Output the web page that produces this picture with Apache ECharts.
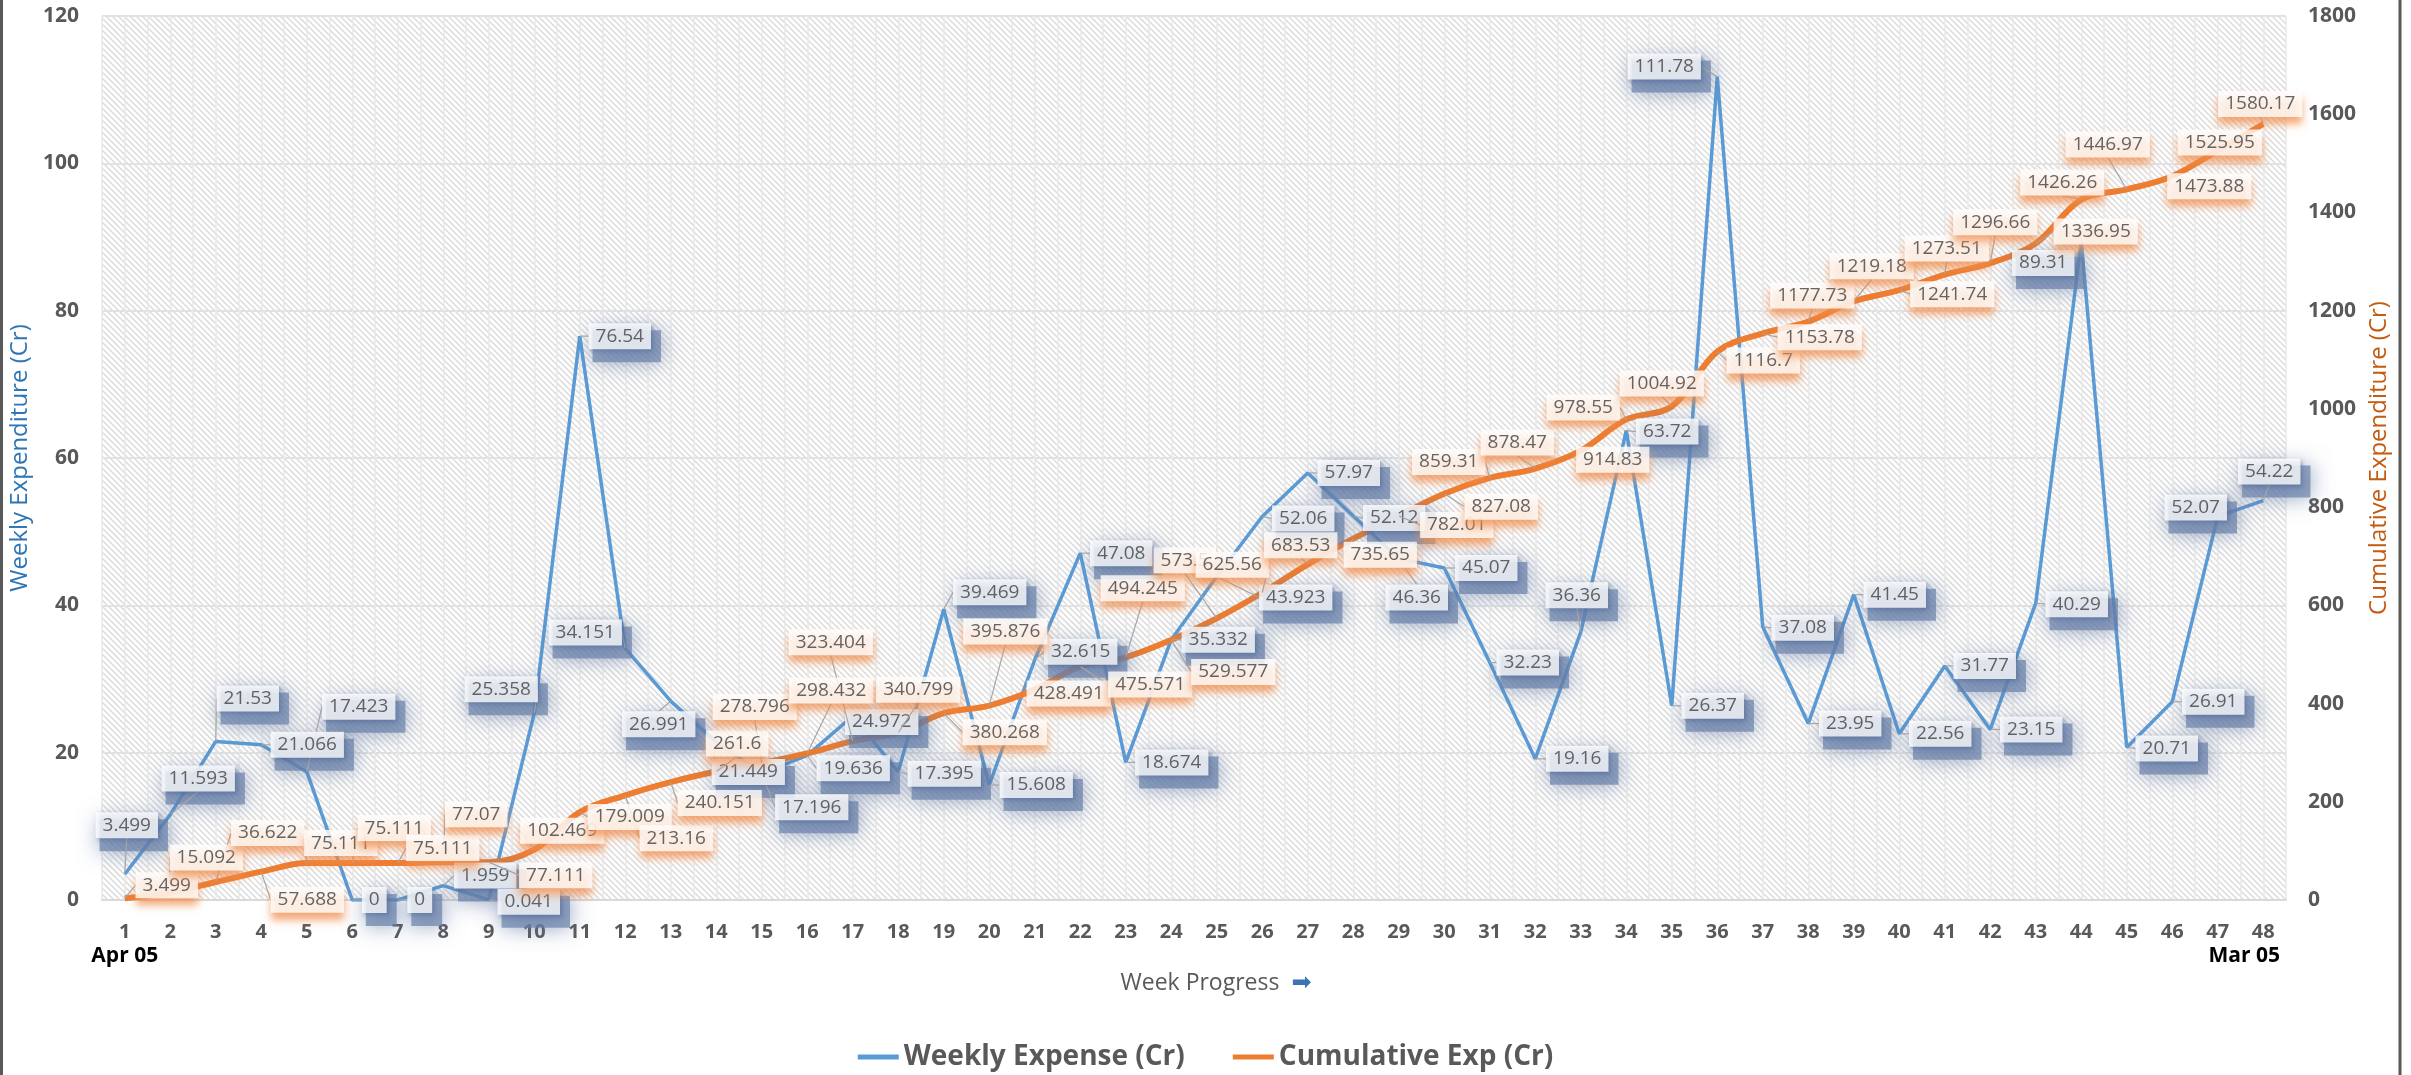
<!DOCTYPE html>
<html>
<head>
<meta charset="utf-8">
<title>Weekly Expenditure</title>
<script src="https://cdn.jsdelivr.net/npm/echarts@6/dist/echarts.min.js"></script>
<style>
  html, body { margin: 0; padding: 0; background: #ffffff; }
  #chart { width: 2411px; height: 1075px; }
</style>
</head>
<body>
<div id="chart"></div>
<script>
const weeks = [
  "1", "2", "3", "4", "5", "6", "7", "8", "9", "10", "11", "12",
  "13", "14", "15", "16", "17", "18", "19", "20", "21", "22", "23", "24",
  "25", "26", "27", "28", "29", "30", "31", "32", "33", "34", "35", "36",
  "37", "38", "39", "40", "41", "42", "43", "44", "45", "46", "47", "48",
];

const weeklyExpense = [
  3.499, 11.593, 21.53, 21.066, 17.423, 0, 0, 1.959, 0.041, 25.358, 76.54, 34.151,
  26.991, 21.449, 17.196, 19.636, 24.972, 17.395, 39.469, 15.608, 32.615, 47.08, 18.674, 35.332,
  43.923, 52.06, 57.97, 52.12, 46.36, 45.07, 32.23, 19.16, 36.36, 63.72, 26.37, 111.78,
  37.08, 23.95, 41.45, 22.56, 31.77, 23.15, 40.29, 89.31, 20.71, 26.91, 52.07, 54.22,
];

const cumulativeExp = [
  3.499, 15.092, 36.622, 57.688, 75.111, 75.111, 75.111, 77.07, 77.111, 102.469, 179.009, 213.16,
  240.151, 261.6, 278.796, 298.432, 323.404, 340.799, 380.268, 395.876, 428.491, 475.571, 494.245, 529.577,
  573.5, 625.56, 683.53, 735.65, 782.01, 827.08, 859.31, 878.47, 914.83, 978.55, 1004.92, 1116.7,
  1153.78, 1177.73, 1219.18, 1241.74, 1273.51, 1296.66, 1336.95, 1426.26, 1446.97, 1473.88, 1525.95, 1580.17,
];

const periodStart = "Apr 05";
const periodEnd = "Mar 05";

// where each data label box sits relative to its point (px), as placed in the original
const weeklyLabelShift = [
  [2, -49], [28, -36], [32, -43], [46, 0], [52, -65], [22, 0], [22, 0], [42, -10],
  [40, 2], [-33, -24], [40, 0], [-40, -16], [-12, 23], [32, 30], [50, 34], [46, 13],
  [29, 6], [46, 2], [46, -17], [47, 0], [46, -8], [41, 0], [46, 0], [47, 0],
  [79, 21], [41, 2], [41, 0], [41, 2], [18, 39], [42, 0], [38, 0], [42, 0],
  [-4, -37], [41, 1], [41, 0], [-53, -10], [40, 1], [42, 0], [41, 0], [41, 0],
  [40, 0], [41, 0], [41, 1], [-38, 21], [40, 1], [41, 0], [-22, -9], [6, -29],
];

const cumulativeLabelShift = [
  [42, -13], [36, -35], [52, -49], [46, 28], [34, -20], [42, -35], [45, -15], [33, -48],
  [67, 13], [28, -19], [50, 5], [51, 43], [49, 21], [21, -28], [-7, -56], [24, -63],
  [-22, -99], [20, -43], [61, 19], [16, -74], [34, 4], [70, 18], [17, -69], [62, 32],
  [-32, -58], [-30, -28], [-7, -19], [27, 16], [58, 9], [57, 13], [-41, -16], [-18, -26],
  [32, 9], [-43, -12], [-10, -23], [46, 9], [57, 4], [4, -26], [18, -35], [53, 4],
  [2, -26], [5, -41], [60, -12], [-19, -17], [-19, -45], [37, 10], [2, -8], [-3, -20],
];

const FONT = "Open Sans";

function makeHatch() {
  const size = 6;
  const canvas = document.createElement("canvas");
  canvas.width = size;
  canvas.height = size;
  const ctx = canvas.getContext("2d");
  ctx.fillStyle = "#ffffff";
  ctx.fillRect(0, 0, size, size);
  ctx.strokeStyle = "#dcdcdc";
  ctx.lineWidth = 1.5;
  ctx.beginPath();
  ctx.moveTo(-1, -1);
  ctx.lineTo(size + 1, size + 1);
  ctx.moveTo(-1, size - 1);
  ctx.lineTo(1, size + 1);
  ctx.moveTo(size - 1, -1);
  ctx.lineTo(size + 1, 1);
  ctx.stroke();
  return canvas;
}

function labelStyle(shadowColor, blur, offX, offY) {
  return {
    show: true,
    position: "inside",
    formatter: (p) => String(p.value),
    fontFamily: FONT,
    fontSize: 19,
    color: "#404040",
    backgroundColor: "#ffffff",
    padding: [4, 7, 3, 7],
    shadowColor: shadowColor,
    shadowBlur: blur,
    shadowOffsetX: offX,
    shadowOffsetY: offY,
  };
}

// blurred dark box drawn under the blue labels (Excel "outer shadow" look)
const weeklyShadowLabel = {
  show: true,
  position: "inside",
  formatter: (p) => String(p.value),
  fontFamily: FONT,
  fontSize: 19,
  color: "rgba(0,0,0,0)",
  backgroundColor: "rgba(104,128,168,0.85)",
  padding: [7, 10, 6, 10],
  shadowColor: "rgba(96,120,162,1)",
  shadowBlur: 22,
};

function shiftLayout(shifts, extraX, extraY) {
  return (params) => {
    const s = shifts[params.dataIndex];
    return { dx: s[0] + (extraX || 0), dy: s[1] + (extraY || 0) };
  };
}

const chart = echarts.init(document.getElementById("chart"));

const option = {
  backgroundColor: "#ffffff",
  animation: false,
  textStyle: { fontFamily: FONT },
  grid: {
    left: 102,
    right: 125,
    top: 16,
    bottom: 175,
    show: true,
    borderWidth: 0,
    backgroundColor: { image: makeHatch(), repeat: "repeat" },
  },
  legend: {
    data: ["Weekly Expense (Cr)", "Cumulative Exp (Cr)"],
    left: "center",
    top: 1038,
    icon: "rect",
    itemWidth: 41,
    itemHeight: 5,
    itemGap: 48,
    textStyle: { fontFamily: FONT, fontSize: 28, fontWeight: "bold", color: "#595959" },
  },
  xAxis: [
    {
      type: "category",
      data: weeks,
      boundaryGap: true,
      axisLine: { lineStyle: { color: "#d9d9d9", width: 2 } },
      axisTick: { show: false },
      splitLine: { show: false },
      axisLabel: {
        interval: 0,
        margin: 20,
        formatter: (value, index) => {
          if (index === 0) return "{n|" + value + "}\n{d|" + periodStart + "}";
          if (index === weeks.length - 1) return "{n|" + value + "}\n{e|" + periodEnd + "}";
          return "{n|" + value + "}";
        },
        rich: {
          n: { fontFamily: FONT, fontSize: 20, fontWeight: "bold", color: "#595959", lineHeight: 24 },
          d: { fontFamily: FONT, fontSize: 21, fontWeight: "bold", color: "#000000", lineHeight: 24 },
          e: { fontFamily: FONT, fontSize: 21, fontWeight: "bold", color: "#000000", lineHeight: 24, padding: [0, 38, 0, 0] },
        },
      },
      name: "Week Progress  {a|➡}",
      nameLocation: "middle",
      nameGap: 58,
      nameTextStyle: {
        fontFamily: FONT,
        fontSize: 23,
        color: "#595959",
        padding: [0, 0, 0, 44],
        rich: {
          a: { fontFamily: "DejaVu Sans", fontSize: 24, color: "#3d72b4" },
        },
      },
    },
    {
      type: "value",
      position: "top",
      min: 0,
      max: weeks.length * 2,
      interval: 1,
      axisLine: { show: false },
      axisTick: { show: false },
      axisLabel: { show: false },
      splitLine: { show: true, lineStyle: { color: "#e9e9e9", width: 1.5 } },
    },
  ],
  yAxis: [
    {
      type: "value",
      position: "left",
      min: 0,
      max: 120,
      interval: 20,
      axisLine: { show: false },
      axisTick: { show: false },
      axisLabel: { margin: 23, fontFamily: FONT, fontSize: 21, fontWeight: "bold", color: "#595959" },
      splitLine: { lineStyle: { color: "#e2e2e2", width: 2 } },
      name: "Weekly Expenditure (Cr)",
      nameLocation: "middle",
      nameRotate: 90,
      nameGap: 62,
      nameTextStyle: { fontFamily: FONT, fontSize: 24, color: "#2e75b6" },
    },
    {
      type: "value",
      position: "right",
      min: 0,
      max: 1800,
      interval: 200,
      axisLine: { show: false },
      axisTick: { show: false },
      axisLabel: {
        margin: 22,
        fontFamily: FONT,
        fontSize: 21,
        fontWeight: "bold",
        color: "#595959",
        formatter: (v) => String(v),
      },
      splitLine: { show: false },
      name: "Cumulative Expenditure (Cr)",
      nameLocation: "middle",
      nameRotate: 90,
      nameGap: 74,
      nameTextStyle: { fontFamily: FONT, fontSize: 24, color: "#c55a11" },
    },
  ],
  series: [
    {
      name: "Weekly Expense (Cr)",
      type: "line",
      data: weeklyExpense,
      xAxisIndex: 0,
      yAxisIndex: 0,
      symbol: "none",
      lineStyle: { color: "#5b9bd5", width: 3.5 },
      itemStyle: { color: "#5b9bd5" },
      z: 3,
    },
    {
      name: "Cumulative Exp (Cr)",
      type: "line",
      data: cumulativeExp,
      xAxisIndex: 0,
      yAxisIndex: 1,
      smooth: 0.35,
      symbol: "none",
      lineStyle: { color: "#ed7d31", width: 6 },
      itemStyle: { color: "#ed7d31" },
      z: 4,
    },
    {
      name: "weekly label shadows",
      type: "scatter",
      data: weeklyExpense,
      xAxisIndex: 0,
      yAxisIndex: 0,
      symbolSize: 1,
      silent: true,
      itemStyle: { color: "rgba(0,0,0,0)" },
      label: weeklyShadowLabel,
      labelLayout: shiftLayout(weeklyLabelShift, 7, 10),
      z: 9,
    },
    {
      name: "weekly labels",
      type: "scatter",
      data: weeklyExpense,
      xAxisIndex: 0,
      yAxisIndex: 0,
      symbolSize: 1,
      silent: true,
      itemStyle: { color: "rgba(0,0,0,0)" },
      label: labelStyle("rgba(72,98,145,0.6)", 4, 2, 2),
      labelLayout: shiftLayout(weeklyLabelShift),
      labelLine: { show: true, lineStyle: { color: "#a6a6a6", width: 1.2 } },
      z: 10,
    },
    {
      name: "cumulative labels",
      type: "scatter",
      data: cumulativeExp,
      xAxisIndex: 0,
      yAxisIndex: 1,
      symbolSize: 1,
      silent: true,
      itemStyle: { color: "rgba(0,0,0,0)" },
      label: labelStyle("rgba(240,140,75,0.95)", 8, 0, 7),
      labelLayout: shiftLayout(cumulativeLabelShift),
      labelLine: { show: true, lineStyle: { color: "#a6a6a6", width: 1.2 } },
      z: 11,
    },
  ],
  graphic: [
    {
      type: "rect",
      shape: { x: 1.5, y: -10, width: 2398.5, height: 1100 },
      style: { fill: "none", stroke: "#595959", lineWidth: 3 },
      silent: true,
    },
  ],
};

chart.setOption(option);
</script>
</body>
</html>
